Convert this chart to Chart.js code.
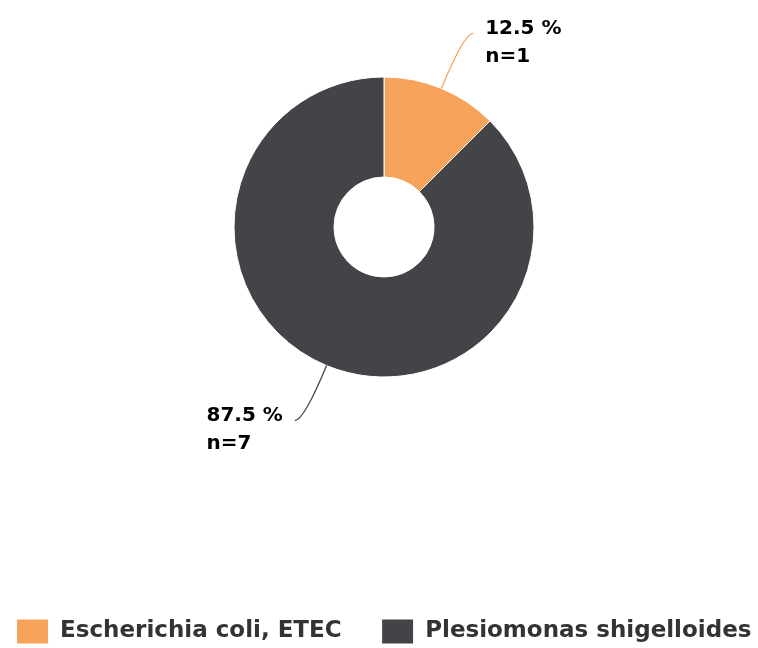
<!DOCTYPE html>
<html>
<head>
<meta charset="utf-8">
<script src="https://cdn.jsdelivr.net/npm/chart.js@4.4.0/dist/chart.umd.min.js"></script>
<style>
  html, body { margin: 0; padding: 0; background: #fff; }
  #wrap { width: 758px; height: 648px; position: relative; }
</style>
</head>
<body>
<div id="wrap"><canvas id="c" width="758" height="648"></canvas></div>
<script>
const categories = ['Escherichia coli, ETEC', 'Plesiomonas shigelloides'];
const counts = [1, 7];
const sliceColors = ['#f7a35c', '#434348'];

const total = counts.reduce((a, b) => a + b, 0);

// keeps the legend on one row and puts it at the bottom edge
const legendPlacer = {
  id: 'legendPlacer',
  beforeInit(chart) {
    const lg = chart.legend;
    if (!lg) return;
    const origFit = lg.fit;
    lg.fit = function () {
      const mw = this.maxWidth;
      this.maxWidth = 2000;
      origFit.call(this);
      this.maxWidth = mw;
      this.width = mw;
      this.height = 194;
    };
  },
  afterLayout(chart) {
    const lg = chart.legend;
    if (!lg) return;
    const cxm = (lg.left + lg.right) / 2;
    lg.left = cxm - 500;
    lg.right = cxm + 500;
    lg.top = 579;
    lg.bottom = 648;
  }
};

const outsideLabels = {
  id: 'outsideLabels',
  afterDatasetsDraw(chart) {
    const ctx = chart.ctx;
    const meta = chart.getDatasetMeta(0);
    meta.data.forEach((arc, i) => {
      const p = arc.getProps(['x', 'y', 'startAngle', 'endAngle', 'outerRadius'], true);
      const mid = (p.startAngle + p.endAngle) / 2;
      const c = Math.cos(mid), s = Math.sin(mid);
      const side = c >= 0 ? 1 : -1;
      const sx = p.x + c * p.outerRadius;
      const sy = p.y + s * p.outerRadius;
      const R2 = p.outerRadius + 59.5;
      const ey = p.y + s * R2;
      const ex = p.x + c * R2 + side * 9;
      const t = (ey - sy) / s;
      const cx = sx + c * t;
      ctx.save();
      ctx.strokeStyle = sliceColors[i];
      ctx.lineWidth = 1.3;
      ctx.beginPath();
      ctx.moveTo(sx, sy);
      ctx.quadraticCurveTo(cx, ey, ex, ey);
      ctx.stroke();
      const pct = (counts[i] / total * 100).toFixed(1) + ' %';
      const nTxt = 'n=' + counts[i];
      ctx.fillStyle = '#000000';
      ctx.font = 'bold 20px "DejaVu Sans"';
      ctx.textBaseline = 'middle';
      ctx.textAlign = 'left';
      const w = Math.max(ctx.measureText(pct).width, ctx.measureText(nTxt).width);
      const tx = side > 0 ? ex + 12 : ex - 12 - w;
      ctx.fillText(pct, tx, ey - 5);
      ctx.fillText(nTxt, tx, ey + 23);
      ctx.restore();
    });
  }
};

new Chart(document.getElementById('c'), {
  type: 'doughnut',
  data: {
    labels: categories,
    datasets: [{
      data: counts,
      backgroundColor: sliceColors,
      borderColor: '#ffffff',
      borderWidth: 1,
      hoverOffset: 0,
      radius: 150,
      cutout: '33.333%'
    }]
  },
  options: {
    responsive: false,
    animation: false,
    events: [],
    layout: { padding: { left: 10, right: 0, top: 0, bottom: 0 } },
    plugins: {
      tooltip: { enabled: false },
      legend: {
        position: 'bottom',
        align: 'center',
        labels: {
          boxWidth: 32,
          boxHeight: 25,
          padding: 40,
          color: '#333333',
          font: { family: '"DejaVu Sans"', size: 23, weight: 'bold' }
        }
      }
    }
  },
  plugins: [legendPlacer, outsideLabels]
});
</script>
</body>
</html>
